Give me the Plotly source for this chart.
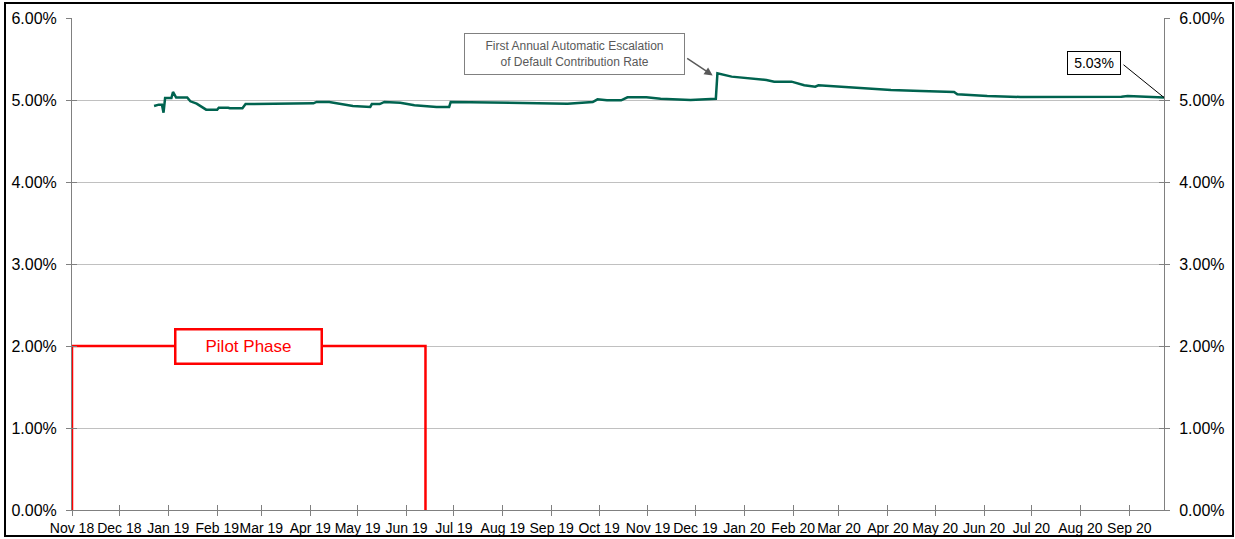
import plotly.graph_objects as go
import pandas as pd

# ---- data ----
dates = ["2018-12-23", "2018-12-26", "2018-12-28", "2018-12-29", "2018-12-30",
         "2019-01-03", "2019-01-04", "2019-01-06", "2019-01-13", "2019-01-15",
         "2019-01-19", "2019-01-25", "2019-02-01", "2019-02-02", "2019-02-08",
         "2019-02-09", "2019-02-17", "2019-02-19", "2019-04-03", "2019-04-05",
         "2019-04-13", "2019-04-20", "2019-04-28", "2019-05-09", "2019-05-10",
         "2019-05-15", "2019-05-18", "2019-05-28", "2019-06-06", "2019-06-20",
         "2019-06-28", "2019-06-29", "2019-07-31", "2019-08-31", "2019-09-11",
         "2019-09-27", "2019-09-30", "2019-10-06", "2019-10-15", "2019-10-19",
         "2019-10-31", "2019-11-09", "2019-11-28", "2019-12-14", "2019-12-15",
         "2019-12-24", "2020-01-15", "2020-01-20", "2020-01-31", "2020-02-08",
         "2020-02-15", "2020-02-17", "2020-03-15", "2020-04-03", "2020-04-22",
         "2020-05-13", "2020-05-15", "2020-06-03", "2020-06-24", "2020-07-15",
         "2020-08-05", "2020-08-27", "2020-08-31", "2020-09-23"]
rates = [4.927, 4.943, 4.943, 4.845, 5.024, 5.024, 5.098, 5.03, 5.03, 4.984,
         4.955, 4.882, 4.882, 4.906, 4.906, 4.90, 4.90, 4.951, 4.96, 4.976,
         4.976, 4.951, 4.927, 4.915, 4.95, 4.95, 4.976, 4.967, 4.935, 4.915,
         4.915, 4.976, 4.963, 4.951, 4.955, 4.976, 5.008, 4.996, 4.996, 5.033,
         5.033, 5.016, 5.0, 5.016, 5.325, 5.285, 5.244, 5.224, 5.224, 5.179,
         5.163, 5.179, 5.142, 5.122, 5.11, 5.098, 5.07, 5.049, 5.037, 5.037,
         5.045, 5.04, 5.049, 5.03]

pilot_start = "2018-11-01"
pilot_end = "2019-06-13"
pilot_level = 2.0
pilot_label = "Pilot Phase"

escalation_date = "2019-12-12"
escalation_rate = 5.30
escalation_label = "First Annual Automatic Escalation<br>of Default Contribution Rate"
last_label = "5.03%"

x_range = ["2018-11-01", "2020-09-23"]
y_ticks = [0, 1, 2, 3, 4, 5, 6]
y_tick_labels = ["0.00%", "1.00%", "2.00%", "3.00%", "4.00%", "5.00%", "6.00%"]

# ---- styling ----
FONT = "Liberation Sans, Arial, sans-serif"
AXIS_GRAY = "#808080"
GRID_GRAY = "#c0c0c0"
LINE_GREEN = "#00634f"
RED = "#ff0000"

W, H = 1235, 539
ML, MR, MT, MB = 72, 71, 18, 29
PW, PH = W - ML - MR, H - MT - MB

fig = go.Figure()

fig.add_trace(go.Scatter(
    x=dates, y=rates, mode="lines",
    line=dict(color=LINE_GREEN, width=2.5),
    hoverinfo="skip", showlegend=False))

fig.add_trace(go.Scatter(
    x=[pilot_start, pilot_start, pilot_end, pilot_end],
    y=[0, pilot_level, pilot_level, 0], mode="lines",
    line=dict(color=RED, width=2.5), cliponaxis=False,
    hoverinfo="skip", showlegend=False))

# invisible helper traces so the overlay axes (right labels, crossing ticks) render
for xa, ya in [("x", "y2"), ("x", "y3"), ("x", "y4"), ("x2", "y")]:
    fig.add_trace(go.Scatter(x=[x_range[0]], y=[0], xaxis=xa, yaxis=ya,
                             mode="markers", marker=dict(opacity=0, size=1),
                             hoverinfo="skip", showlegend=False))

pilot_mid = pd.Timestamp(pilot_start) + (pd.Timestamp(pilot_end) - pd.Timestamp(pilot_start)) / 2

ann = []
ann.append(dict(x=pilot_mid, y=pilot_level, xref="x", yref="y", text=pilot_label,
                showarrow=False, font=dict(family=FONT, size=17, color=RED),
                bgcolor="white", bordercolor=RED, borderwidth=2.5, borderpad=2,
                width=140, height=28))
# escalation box
ann.append(dict(x=escalation_date, y=escalation_rate, xref="x", yref="y",
                text=escalation_label, showarrow=False,
                xshift=-138, yshift=21,
                font=dict(family=FONT, size=12, color="#595959"),
                bgcolor="white", bordercolor=AXIS_GRAY, borderwidth=1, borderpad=3,
                width=213, height=34))
# escalation arrow
ann.append(dict(x=escalation_date, y=escalation_rate, xref="x", yref="y",
                text="", showarrow=True, ax=-27, ay=-18,
                arrowhead=2, arrowsize=1.1, arrowwidth=1.5, arrowcolor="#595959"))
# last value label
ann.append(dict(x=dates[-1], y=rates[-1], xref="x", yref="y", text=last_label,
                showarrow=False, xshift=-70, yshift=35,
                font=dict(family=FONT, size=14, color="black"),
                bgcolor="white", bordercolor="black", borderwidth=1, borderpad=2,
                width=48, height=18))
ann.append(dict(x=dates[-1], y=rates[-1], xref="x", yref="y", text="",
                showarrow=True, ax=-42, ay=-34, arrowhead=0, arrowwidth=1,
                arrowcolor="black"))

common_y = dict(range=[0, 6], tickvals=y_ticks, ticktext=y_tick_labels,
                showline=True, linecolor=AXIS_GRAY, linewidth=1, automargin=False,
                tickcolor=AXIS_GRAY, ticklen=5, zeroline=False, fixedrange=True)

fig.update_layout(
    width=W, height=H,
    margin=dict(l=ML, r=MR, t=MT, b=MB, pad=0, autoexpand=False),
    paper_bgcolor="white", plot_bgcolor="white",
    font=dict(family=FONT, color="black"),
    showlegend=False,
    annotations=ann,
    xaxis=dict(type="date", range=x_range, tick0="2018-11-01", dtick="M1",
               tickformat="%b %y", tickangle=0, ticks="outside", ticklen=5,
               tickcolor=AXIS_GRAY, showline=True, linecolor=AXIS_GRAY,
               showgrid=False, zeroline=False, automargin=False, fixedrange=True,
               tickfont=dict(family=FONT, size=14, color="black")),
    xaxis2=dict(type="date", range=x_range, tick0="2018-11-01", dtick="M1",
                overlaying="x", anchor="y", side="bottom", ticks="inside",
                ticklen=5, tickcolor=AXIS_GRAY, showticklabels=False, automargin=False,
                showline=False, showgrid=False, zeroline=False, fixedrange=True),
    yaxis=dict(**common_y, side="left", ticks="outside", showgrid=True,
               gridcolor=GRID_GRAY, gridwidth=1, ticklabelstandoff=6,
               tickfont=dict(family=FONT, size=16, color="black")),
    yaxis2=dict(**common_y, side="right", overlaying="y", anchor="x",
                ticks="outside", showgrid=False, ticklabelstandoff=6,
                tickfont=dict(family=FONT, size=16, color="black")),
    yaxis3=dict(**common_y, side="left", overlaying="y", anchor="x",
                ticks="inside", showgrid=False, showticklabels=False),
    yaxis4=dict(**common_y, side="right", overlaying="y", anchor="x",
                ticks="inside", showgrid=False, showticklabels=False),
    shapes=[dict(type="rect", xref="paper", yref="paper",
                 x0=(5 - ML) / PW, x1=(1233 - ML) / PW,
                 y0=(H - MB - 536) / PH, y1=(H - MB - 3) / PH,
                 line=dict(color="black", width=2), fillcolor="rgba(0,0,0,0)",
                 layer="below")],
)

fig.write_html("out.html", config={"displayModeBar": False},
               post_script="document.body.style.margin='0';document.body.style.overflow='hidden';")
